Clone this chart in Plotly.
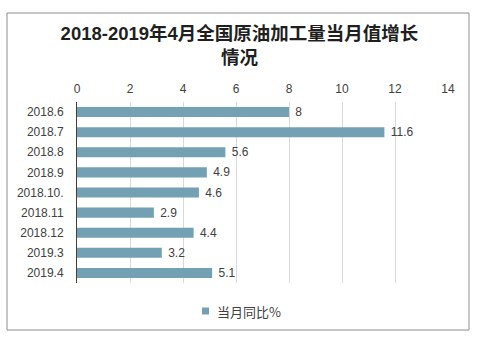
import plotly.graph_objects as go

# Monthly year-on-year growth of national crude oil processing volume
months = ["2018.6", "2018.7", "2018.8", "2018.9", "2018.10.",
          "2018.11", "2018.12", "2019.3", "2019.4"]
growth = [8, 11.6, 5.6, 4.9, 4.6, 2.9, 4.4, 3.2, 5.1]
x_ticks = [0, 2, 4, 6, 8, 10, 12, 14]

series_name = "当月同比%"
bar_color = "#73a0b2"
text_color = "#404040"
font_family = "Liberation Sans, Arial, Noto Sans CJK SC"

W, H = 479, 343
ml, mr, mt, mb = 77, 31, 102, 60
pw, ph = W - ml - mr, H - mt - mb


def px_to_paper_x(px):
    return (px - ml) / pw


def px_to_paper_y(py):
    return (H - mb - py) / ph


fig = go.Figure()
fig.add_trace(go.Bar(
    x=growth, y=months, orientation="h", name=series_name,
    marker=dict(color=bar_color, line=dict(width=0)),
    # a non-breaking space keeps the value label a little off the bar end
    texttemplate="\u00a0%{x}", textposition="outside",
    constraintext="none",
    textfont=dict(size=12, color=text_color, family=font_family),
    cliponaxis=False, showlegend=False, hoverinfo="x+y",
))

# outer frame around the whole chart
fig.add_shape(type="rect", xref="paper", yref="paper",
              x0=px_to_paper_x(7), x1=px_to_paper_x(469),
              y0=px_to_paper_y(330), y1=px_to_paper_y(13),
              line=dict(color="#8c8c8c", width=1), fillcolor="rgba(0,0,0,0)",
              layer="below")

# legend key: small square plus series name, centred under the chart
legend_y = 311
fig.add_shape(type="rect", xref="paper", yref="paper",
              x0=px_to_paper_x(202), x1=px_to_paper_x(209),
              y0=px_to_paper_y(legend_y + 3.5), y1=px_to_paper_y(legend_y - 3.5),
              line=dict(width=0), fillcolor=bar_color)
fig.add_annotation(text=series_name, xref="paper", yref="paper",
                   x=px_to_paper_x(215), y=px_to_paper_y(legend_y),
                   xanchor="left", yanchor="middle", showarrow=False,
                   font=dict(size=13, color=text_color,
                             family="Noto Sans CJK SC"))

fig.update_layout(
    width=W, height=H,
    margin=dict(l=ml, r=mr, t=mt, b=mb),
    paper_bgcolor="white", plot_bgcolor="white",
    font=dict(family=font_family, size=12, color=text_color),
    bargap=0.5,
    showlegend=False,
    title=dict(
        text="2018-2019年4月全国原油加工量当月值增长<br>情况",
        x=0.5, xref="container", xanchor="center",
        y=1 - 40 / H, yref="container", yanchor="top",
        font=dict(family="Liberation Sans, Noto Sans CJK SC", size=18.5,
                  color="#1f1f1f", weight="bold"),
    ),
    xaxis=dict(
        side="top", range=[0, 14], tickvals=x_ticks,
        showgrid=True, gridcolor="#d9d9d9", gridwidth=1,
        zeroline=False, showline=False, ticks="",
        tickfont=dict(size=12, color=text_color),
        ticklabelstandoff=6, fixedrange=True,
    ),
    yaxis=dict(
        categoryorder="array", categoryarray=months, autorange="reversed",
        showline=True, linecolor="#404040", linewidth=1,
        showgrid=False, ticks="", ticklabelstandoff=10,
        tickfont=dict(size=12, color=text_color), fixedrange=True,
    ),
)

fig.write_html("out.html")
